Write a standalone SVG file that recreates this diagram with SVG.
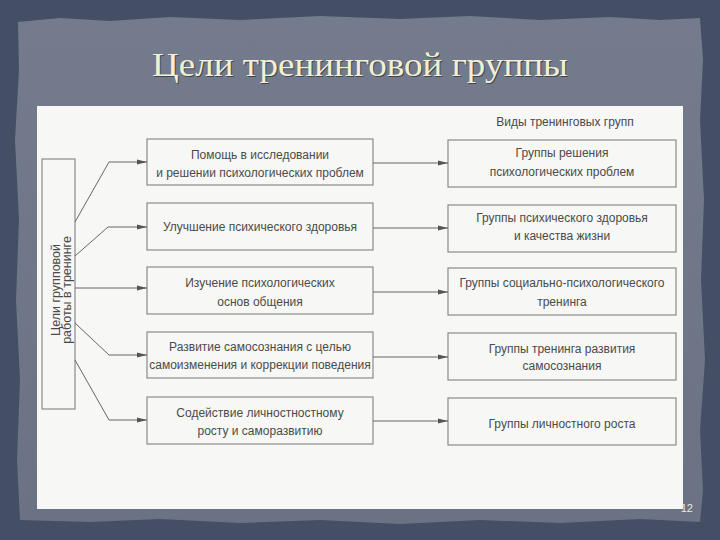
<svg xmlns="http://www.w3.org/2000/svg" width="720" height="540" viewBox="0 0 720 540">
<defs>
<style>
.bx{fill:none;stroke:#8a8a8a;stroke-width:1.2}
.t{font-family:"Liberation Sans","DejaVu Sans",sans-serif;font-size:12px;fill:#4a4a4a;text-anchor:middle}
.lt{font-family:"Liberation Sans","DejaVu Sans",sans-serif;font-size:12.5px;fill:#4a4a4a;text-anchor:middle}
.ttl{font-family:"Liberation Serif","DejaVu Serif",serif;font-size:34px}
.ln{fill:none;stroke:#666;stroke-width:1}
</style>
<marker id="ar" viewBox="0 0 10 6" refX="10" refY="3" markerWidth="10" markerHeight="6" markerUnits="userSpaceOnUse" orient="auto">
<path d="M0,0.5 L10,3 L0,5.5 Z" fill="#555"/>
</marker>
<linearGradient id="pg" x1="0" y1="0" x2="0" y2="1">
<stop offset="0" stop-color="#737b8c"/>
<stop offset="1" stop-color="#6a7283"/>
</linearGradient>
</defs>
<rect width="720" height="540" fill="#444f65"/>
<path d="M18,22 L60,18 L110,21 L170,17 L240,20 L320,16 L400,19 L470,16 L540,20 L610,17 L660,20 L700,18 L703,60 L700,120 L704,200 L701,280 L705,360 L700,430 L703,490 L700,522 L640,519 L560,523 L480,520 L400,524 L320,520 L240,523 L160,519 L90,522 L20,520 L17,460 L20,380 L16,300 L19,220 L15,140 L19,70 Z" fill="url(#pg)"/>
<text class="ttl" x="153" y="77" textLength="416" lengthAdjust="spacingAndGlyphs" fill="#2a3040" opacity="0.7">Цели тренинговой группы</text>
<text class="ttl" x="152" y="76" textLength="416" lengthAdjust="spacingAndGlyphs" fill="#f2f0d2">Цели тренинговой группы</text>
<rect x="37" y="106" width="646" height="403" fill="#f7f7f5"/>
<text x="693" y="512" font-family="'Liberation Sans',sans-serif" font-size="11" fill="#e8e8e8" text-anchor="end">12</text>
<text class="t" x="565" y="126">Виды тренинговых групп</text>

<g id="goals">
<rect class="bx" x="42" y="159" width="33" height="250"/>
<text class="lt" transform="translate(60,290) rotate(-90)">Цели групповой</text>
<text class="lt" transform="translate(71,290) rotate(-90)">работы в тренинге</text>
</g>

<g id="g1"><rect class="bx" x="147" y="139" width="226" height="46"/>
<text class="t" x="260" y="159">Помощь в исследовании</text>
<text class="t" x="260" y="177">и решении психологических проблем</text></g>
<g id="g2"><rect class="bx" x="147" y="203" width="226" height="47"/>
<text class="t" x="260" y="231">Улучшение психического здоровья</text></g>
<g id="g3"><rect class="bx" x="147" y="267" width="226" height="47"/>
<text class="t" x="260" y="287">Изучение психологических</text>
<text class="t" x="260" y="306">основ общения</text></g>
<g id="g4"><rect class="bx" x="147" y="332" width="226" height="46"/>
<text class="t" x="260" y="351">Развитие самосознания с целью</text>
<text class="t" x="260" y="369">самоизменения и коррекции поведения</text></g>
<g id="g5"><rect class="bx" x="147" y="397" width="226" height="47"/>
<text class="t" x="260" y="417">Содействие личностностному</text>
<text class="t" x="260" y="435">росту и саморазвитию</text></g>

<g id="r1"><rect class="bx" x="448" y="140" width="228" height="47"/>
<text class="t" x="562" y="157">Группы решения</text>
<text class="t" x="562" y="176">психологических проблем</text></g>
<g id="r2"><rect class="bx" x="448" y="205" width="228" height="47"/>
<text class="t" x="562" y="222">Группы психического здоровья</text>
<text class="t" x="562" y="240">и качества жизни</text></g>
<g id="r3"><rect class="bx" x="448" y="268" width="228" height="47"/>
<text class="t" x="562" y="287">Группы социально-психологического</text>
<text class="t" x="562" y="306">тренинга</text></g>
<g id="r4"><rect class="bx" x="448" y="333" width="228" height="47"/>
<text class="t" x="562" y="353">Группы тренинга развития</text>
<text class="t" x="562" y="370">самосознания</text></g>
<g id="r5"><rect class="bx" x="448" y="398" width="228" height="47"/>
<text class="t" x="562" y="428">Группы личностного роста</text></g>

<g id="connectors">
<path class="ln" d="M75,222 L109,162 L147,162" marker-end="url(#ar)"/>
<path class="ln" d="M75,256 L108,227 L147,227" marker-end="url(#ar)"/>
<path class="ln" d="M75,288 L147,288" marker-end="url(#ar)"/>
<path class="ln" d="M75,323 L109,355 L147,355" marker-end="url(#ar)"/>
<path class="ln" d="M75,360 L109,420 L147,420" marker-end="url(#ar)"/>
<path class="ln" d="M373,163 L448,163" marker-end="url(#ar)"/>
<path class="ln" d="M373,228 L448,228" marker-end="url(#ar)"/>
<path class="ln" d="M373,292 L448,292" marker-end="url(#ar)"/>
<path class="ln" d="M373,357 L448,357" marker-end="url(#ar)"/>
<path class="ln" d="M373,421 L448,421" marker-end="url(#ar)"/>
</g>
</svg>
